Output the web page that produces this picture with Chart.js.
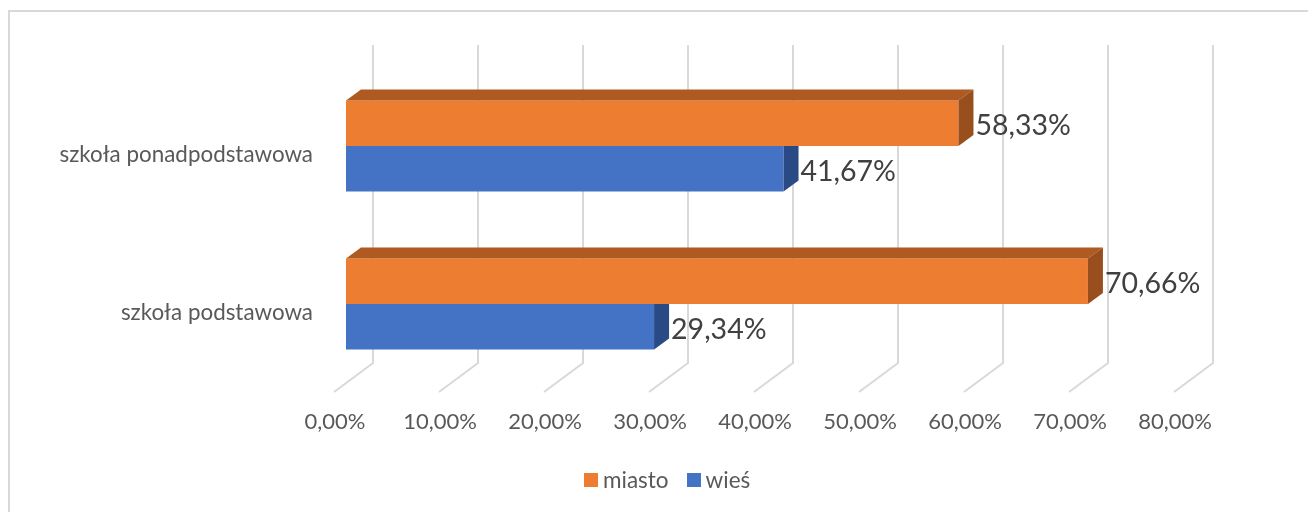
<!DOCTYPE html>
<html>
<head>
<meta charset="utf-8">
<script src="https://cdn.jsdelivr.net/npm/chart.js@4"></script>
<style>
body { margin: 0; background: #fff; }
#wrap { position: relative; width: 1308px; height: 512px; overflow: hidden; }
#frame { position: absolute; left: 8px; top: 10px; right: 0; bottom: 0; border-left: 2px solid #d9d9d9; border-top: 2px solid #d9d9d9; }
#legend { position: absolute; left: 584px; top: 466px; display: flex; font: 22.5px Lato; color: #595959; line-height: 28px; }
#legend .item { display: flex; align-items: center; margin-right: 18px; }
#legend .box { width: 14px; height: 14px; margin-right: 5px; }
</style>
</head>
<body>
<div id="wrap">
<div id="frame"></div>
<canvas id="chart" width="1308" height="512" style="position:absolute;left:0;top:0"></canvas>
<div id="legend"></div>
</div>
<script>
let categories = ["szkoła ponadpodstawowa", "szkoła podstawowa"];
let miasto = [58.33, 70.66];
let wies = [41.67, 29.34];
let seriesNames = ["miasto", "wieś"];
let xTicks = [0, 10, 20, 30, 40, 50, 60, 70, 80];

function percent(v) {
    return v.toFixed(2).replace(".", ",") + "%";
}

// back wall and floor lines of the 3d look
let wallPlugin = {
    id: "wall",
    beforeDatasetsDraw(chart) {
        let ctx = chart.ctx;
        let x = chart.scales.x;
        ctx.save();
        ctx.strokeStyle = "#d9d9d9";
        ctx.lineWidth = 2;
        xTicks.forEach(function (t) {
            let px = x.getPixelForValue(t) + 27;
            ctx.beginPath();
            ctx.moveTo(px, chart.chartArea.top - 22);
            ctx.lineTo(px, chart.chartArea.bottom - 20);
            ctx.lineTo(px - 39, chart.chartArea.bottom + 9);
            ctx.stroke();
        });
        ctx.restore();
    }
};

// top and side faces of the bars, plus the value labels
let facesPlugin = {
    id: "faces",
    afterDatasetsDraw(chart) {
        let ctx = chart.ctx;
        let dx = 15, dy = 11;
        ctx.save();
        chart.data.datasets.forEach(function (ds, d) {
            chart.getDatasetMeta(d).data.forEach(function (bar, i) {
                let top = bar.y - bar.height / 2;
                let bottom = bar.y + bar.height / 2;
                // the lower bar sits behind the upper one, so no slanted top for it
                let backTop = d == 0 ? top - dy : top;
                if (d == 0) {
                    ctx.fillStyle = "#ae5a21";
                    ctx.beginPath();
                    ctx.moveTo(bar.base, top);
                    ctx.lineTo(bar.base + dx, top - dy);
                    ctx.lineTo(bar.x + dx, top - dy);
                    ctx.lineTo(bar.x, top);
                    ctx.fill();
                }
                ctx.fillStyle = ds.sideColor;
                ctx.beginPath();
                ctx.moveTo(bar.x, top);
                ctx.lineTo(bar.x + dx, backTop);
                ctx.lineTo(bar.x + dx, bottom - dy);
                ctx.lineTo(bar.x, bottom);
                ctx.fill();

                ctx.fillStyle = "#404040";
                ctx.font = "28.5px Lato";
                ctx.textAlign = "left";
                ctx.textBaseline = "middle";
                ctx.fillText(percent(ds.data[i]), bar.x + dx + 2, bar.y + 3);
            });
        });
        ctx.restore();
    }
};

let ctx = document.getElementById("chart").getContext("2d");
let myChart = new Chart(ctx, {
    type: "bar",
    data: {
        labels: categories,
        datasets: [
            { label: seriesNames[0], data: miasto, backgroundColor: "#ed7d31", sideColor: "#984f1d" },
            { label: seriesNames[1], data: wies, backgroundColor: "#4472c4", sideColor: "#2a4a85" }
        ]
    },
    options: {
        indexAxis: "y",
        responsive: false,
        animation: false,
        layout: { padding: { left: 0, right: 122, top: 67, bottom: 0 } },
        categoryPercentage: 0.576,
        barPercentage: 1,
        scales: {
            x: {
                min: 0,
                max: 80,
                afterFit(scale) { scale.height = 129; },
                grid: { display: false },
                border: { display: false },
                ticks: {
                    stepSize: 10,
                    labelOffset: -11,
                    padding: 18,
                    color: "#595959",
                    font: { family: "Lato", size: 22 },
                    maxRotation: 0,
                    callback: function (v) { return percent(v); }
                }
            },
            y: {
                afterFit(scale) { scale.width = 346; },
                grid: { display: false },
                border: { display: false },
                ticks: {
                    padding: 25,
                    labelOffset: 9,
                    color: "#595959",
                    font: { family: "Lato", size: 22.4 }
                }
            }
        },
        plugins: {
            tooltip: { enabled: false },
            legend: { display: false }
        }
    },
    plugins: [wallPlugin, facesPlugin]
});

// legend as html so box and text spacing can follow the reference
let legend = document.getElementById("legend");
myChart.data.datasets.forEach(function (ds) {
    let item = document.createElement("div");
    item.className = "item";
    let box = document.createElement("div");
    box.className = "box";
    box.style.background = ds.backgroundColor;
    let text = document.createElement("span");
    text.textContent = ds.label;
    item.appendChild(box);
    item.appendChild(text);
    legend.appendChild(item);
});
</script>
</body>
</html>
